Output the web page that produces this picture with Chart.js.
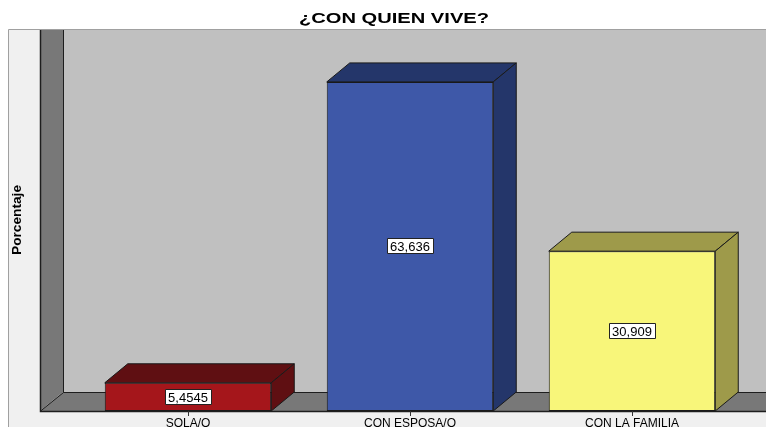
<!DOCTYPE html>
<html>
<head>
<meta charset="utf-8">
<script src="https://cdn.jsdelivr.net/npm/chart.js@4"></script>
<style>
  html, body { margin: 0; padding: 0; background: #fff; }
  #wrap { width: 766px; height: 427px; }
</style>
</head>
<body>
<div id="wrap"><canvas id="grafico"></canvas></div>
<script>
// Datos
const titulo = '¿CON QUIEN VIVE?';
const tituloEjeY = 'Porcentaje';
const categorias = ['SOLA/O', 'CON ESPOSA/O', 'CON LA FAMILIA'];
const porcentajes = [5.4545, 63.636, 30.909];
const yMax = 70;

// colores: frente / tapa y lado
const colorFrente = ['#a5161b', '#3e58a8', '#f8f67a'];
const colorLado = ['#5f0f12', '#24366a', '#9e9a4a'];

// profundidad del efecto 3D
const DX = 23, DY = 19;

// texto estirado en horizontal, como en la imagen original
function textoEstirado(ctx, txt, x, y, font, ancho, rot) {
    ctx.save();
    ctx.translate(x, y);
    if (rot) ctx.rotate(rot);
    ctx.font = font;
    const w = ctx.measureText(txt).width;
    ctx.scale(ancho / w, 1);
    ctx.fillStyle = '#000';
    ctx.textAlign = 'center';
    ctx.textBaseline = 'middle';
    ctx.fillText(txt, 0, 0);
    ctx.restore();
}

const fondo3d = {
    id: 'fondo3d',
    beforeDraw(chart) {
        const { ctx, chartArea: a, width, height } = chart;
        const xf = a.left - 37;     // borde frontal de la pared izquierda
        const top = a.top - DY;
        ctx.save();
        // panel claro
        ctx.fillStyle = '#f0f0f0';
        ctx.fillRect(8, top, width - 8, height - top);
        ctx.strokeStyle = '#a0a0a0';
        ctx.lineWidth = 1;
        ctx.beginPath();
        ctx.moveTo(8.5, height); ctx.lineTo(8.5, top - 0.5); ctx.lineTo(width, top - 0.5);
        ctx.stroke();
        // pared del fondo
        ctx.fillStyle = '#c0c0c0';
        ctx.fillRect(xf + DX, top, width - xf - DX, a.bottom - DY - top);
        // pared izquierda y suelo
        ctx.fillStyle = '#787878';
        ctx.beginPath();
        ctx.moveTo(xf, top); ctx.lineTo(xf + DX, top);
        ctx.lineTo(xf + DX, a.bottom - DY); ctx.lineTo(xf, a.bottom);
        ctx.closePath(); ctx.fill();
        ctx.beginPath();
        ctx.moveTo(xf, a.bottom); ctx.lineTo(xf + DX, a.bottom - DY);
        ctx.lineTo(width, a.bottom - DY); ctx.lineTo(width, a.bottom);
        ctx.closePath(); ctx.fill();
        // aristas
        ctx.strokeStyle = '#1e1e1e';
        ctx.lineWidth = 1;
        ctx.beginPath();
        ctx.moveTo(xf + DX + 0.5, top); ctx.lineTo(xf + DX + 0.5, a.bottom - DY + 0.5);
        ctx.lineTo(width, a.bottom - DY + 0.5);
        ctx.moveTo(xf, a.bottom + 0.5); ctx.lineTo(xf + DX + 0.5, a.bottom - DY + 0.5);
        ctx.stroke();
        ctx.lineWidth = 1.5;
        ctx.beginPath();
        ctx.moveTo(xf + 0.5, top); ctx.lineTo(xf + 0.5, a.bottom + 0.5); ctx.lineTo(width, a.bottom + 0.5);
        ctx.stroke();
        ctx.restore();

        // titulo y titulo del eje Y
        textoEstirado(ctx, titulo, 394, 19, 'bold 14px "Liberation Sans", Arial, sans-serif', 190, 0);
        textoEstirado(ctx, tituloEjeY, 18, 220, 'bold 12.5px "Liberation Sans", Arial, sans-serif', 70, -Math.PI / 2);
    },
    afterDatasetsDraw(chart) {
        const { ctx } = chart;
        const meta = chart.getDatasetMeta(0);
        ctx.save();
        ctx.lineWidth = 1;
        ctx.lineJoin = 'round';
        meta.data.forEach((bar, i) => {
            const l = bar.x - bar.width / 2, r = bar.x + bar.width / 2;
            const y = bar.y, b = bar.base;
            ctx.strokeStyle = '#1a1a1a';
            ctx.fillStyle = colorLado[i];
            // tapa
            ctx.beginPath();
            ctx.moveTo(l, y); ctx.lineTo(l + DX, y - DY); ctx.lineTo(r + DX, y - DY); ctx.lineTo(r, y);
            ctx.closePath(); ctx.fill(); ctx.stroke();
            // lado
            ctx.beginPath();
            ctx.moveTo(r, y); ctx.lineTo(r + DX, y - DY); ctx.lineTo(r + DX, b - DY); ctx.lineTo(r, b);
            ctx.closePath(); ctx.fill(); ctx.stroke();

            // etiqueta del valor
            const txt = String(porcentajes[i]).replace('.', ',');
            ctx.font = '13px "Liberation Sans", Arial, sans-serif';
            const tw = ctx.measureText(txt).width;
            const cy = Math.round((y + b) / 2);
            const bx = Math.round(bar.x - tw / 2 - 3) + 0.5;
            ctx.fillStyle = '#fff';
            ctx.fillRect(bx, cy - 7.5, Math.round(tw + 6), 15);
            ctx.strokeStyle = '#222';
            ctx.strokeRect(bx, cy - 7.5, Math.round(tw + 6), 15);
            ctx.fillStyle = '#000';
            ctx.textAlign = 'center';
            ctx.textBaseline = 'middle';
            ctx.fillText(txt, bar.x, cy + 1);
        });
        ctx.restore();
    }
};

new Chart(document.getElementById('grafico'), {
    type: 'bar',
    data: {
        labels: categorias,
        datasets: [{
            data: porcentajes,
            backgroundColor: colorFrente,
            borderColor: '#1a1a1a',
            borderWidth: 1,
            borderSkipped: false,
            categoryPercentage: 1,
            barPercentage: 0.75
        }]
    },
    options: {
        responsive: true,
        maintainAspectRatio: false,
        animation: false,
        layout: { padding: { left: 77, right: 23, top: 49, bottom: 0 } },
        plugins: {
            legend: { display: false },
            tooltip: { enabled: false },
            title: { display: false }
        },
        scales: {
            x: {
                grid: { display: true, drawOnChartArea: false, drawTicks: true, tickLength: 5, color: '#333', offset: false },
                border: { display: false },
                ticks: { color: '#000', padding: 0, font: { family: '"Liberation Sans", Arial, sans-serif', size: 12 } },
                afterFit(scale) { scale.height = 16; }
            },
            y: {
                display: false,
                min: 0,
                max: yMax
            }
        }
    },
    plugins: [fondo3d]
});
</script>
</body>
</html>
